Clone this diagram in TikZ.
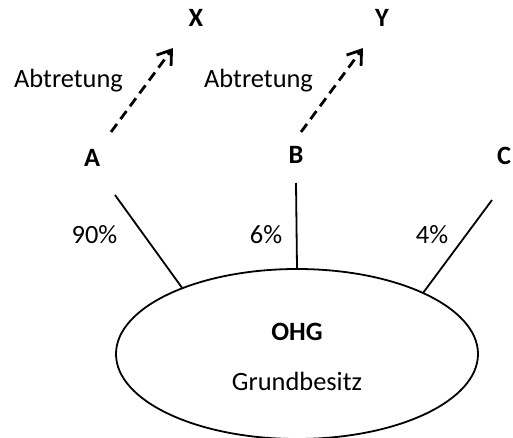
\documentclass[tikz,border=0pt]{standalone}
\usepackage{fontspec}
\setmainfont{Carlito}
\usetikzlibrary{shapes.geometric}
\usetikzlibrary{arrows.meta}
\usetikzlibrary{calc}

\begin{document}
\begin{tikzpicture}[x=0.5pt, y=-0.5pt, every node/.style={inner sep=0pt, anchor=base, font=\fontsize{13.2}{16}\selectfont},
    partner/.style={font=\fontsize{13.2}{16}\selectfont\bfseries},
    share/.style={line width=0.9pt},
    abtretung/.style={line width=1.4pt, dash pattern=on 5pt off 3pt, -{Straight Barb[length=6.5pt, width=9pt]}}]

  \useasboundingbox (0,0) rectangle (513,438);

  % Gesellschaft
  \node[ellipse, draw, line width=0.9pt, minimum width=181pt, minimum height=85pt, anchor=center] (ohg) at (297,354) {};
  \node[partner] (ohgname) at (297,340) {OHG};
  \node (besitz) at (297,390) {Grundbesitz};

  % Gesellschafter und Erwerber
  \node[partner] (A) at (92,167) {A};
  \node[partner] (B) at (296,163) {B};
  \node[partner] (C) at (504,165) {C};
  \node[partner] (X) at (196,27) {X};
  \node[partner] (Y) at (382,27) {Y};

  % Beteiligungen
  \draw[share] ($(A.base)+(23,28)$) -- (ohg.150);
  \draw[share] ($(B.base)+(0,20)$) -- (ohg.90);
  \draw[share] ($(C.base)+(-12,35)$) -- (ohg.26);

  \node (pa) at (94.5,243) {90\%};
  \node (pb) at (266,243) {6\%};
  \node (pc) at (432,243) {4\%};

  % Abtretungen
  \draw[abtretung] ($(A.base)+(19,-35)$) -- ($(X.base)+(-23,21)$);
  \draw[abtretung] ($(B.base)+(5,-31)$) -- ($(Y.base)+(-19,21)$);

  \node (ab1) at (68.5,88) {Abtretung};
  \node (ab2) at (258.5,88) {Abtretung};

\end{tikzpicture}
\end{document}
